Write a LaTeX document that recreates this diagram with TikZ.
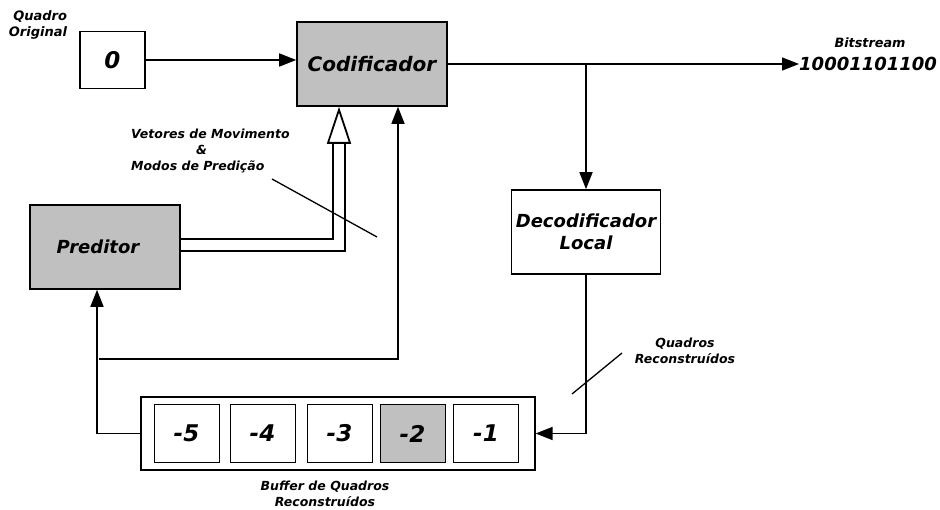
\documentclass[tikz,border=0pt]{standalone}
\usepackage{fontspec}
\setmainfont{DejaVu Sans}
\usepackage{tikz}
\usetikzlibrary{positioning,arrows.meta}
\usepackage{xcolor}
\definecolor{cinza}{HTML}{C0C0C0}
\tikzstyle{bloco}=[rectangle, draw=black, line width=1.6pt, text centered, inner sep=0pt,
minimum width=150pt, minimum height=84pt, font=\fontsize{18}{22}\selectfont\bfseries\itshape]
\tikzstyle{quadro}=[rectangle, draw=black, line width=1pt, inner sep=0pt,
minimum width=65pt, minimum height=57pt, font=\fontsize{23}{26}\selectfont\bfseries\itshape]
\tikzstyle{rotulo}=[inner sep=0pt, font=\fontsize{12.5}{16}\selectfont\bfseries\itshape]
\tikzstyle{seta}=[line width=1.6pt, -{Triangle[length=17pt,width=13pt]}]
\tikzstyle{dupla}=[double, double distance=10pt, line width=1.8pt,
-{Triangle[open, length=37pt, width=24pt, line width=1.8pt]}]

\begin{document}
\begin{tikzpicture}[x=1pt, y=-1pt]
            \useasboundingbox (0,0) rectangle (940,510);
            \node (1)[quadro, line width=1.6pt] at (112.5,60) {0};
            \node (2)[bloco, fill=cinza, font=\fontsize{20}{24}\selectfont\bfseries\itshape] at (372,64) {Codificador};
            \node (3)[bloco, minimum width=149pt, align=center] at (586,232) {Decodificador\\Local};
            \node (4)[bloco, fill=cinza] at (105,247) {\hspace*{-14pt}Preditor};
            \node (5)[draw, line width=1.2pt, minimum width=394pt, minimum height=73pt] at (338,433.5) {};
            \foreach \n/\x/\cor in {5/186.5/white, 4/262.5/white, 3/339.5/white, 2/412.5/cinza, 1/486/white}
                \node (m\n)[quadro, fill=\cor] at (\x,433.5) {-\n};

            \node (6)[rotulo, align=right, font=\fontsize{13}{16}\selectfont\bfseries\itshape] at (38,25) {Quadro\\Original};
            \node (7)[rotulo, font=\fontsize{12.8}{15}\selectfont\bfseries\itshape] at (870,43) {Bitstream};
            \node (8)[rotulo, anchor=west, font=\fontsize{18}{22}\selectfont\bfseries\itshape] at (799,64) {10001101100};
            \node (9)[rotulo, align=left, anchor=west] at (131,151)
                {Vetores de Movimento\\\hspace*{65pt}\&\\Modos de Predição};
            \node (10)[rotulo, align=center] at (685,351) {Quadros\\Reconstruídos};
            \node (11)[rotulo, align=center] at (325,494) {Buffer de Quadros\\Reconstruídos};

            \draw[seta] (1.east) -- (1.east -| 2.west);
            \draw[seta] (2.east) -- (8.west);
            \draw[seta] (2.east -| 3.north) -- (3.north);
            \draw[seta] (3.south) |- (5.east);
            \draw[seta] (5.west) -| ([xshift=-8pt]4.south);
            \coordinate (r1) at (99,359);
            \draw[seta] (r1) -| ([xshift=26pt]2.south);
            \draw[dupla] ([yshift=2pt]4.east) -| ([xshift=-33pt]2.south);

            \coordinate (a1) at (272,179);
            \coordinate (a2) at (377,237);
            \draw[line width=1.3pt] (a1) -- (a2);
            \coordinate (a3) at (572,394);
            \coordinate (a4) at (622,353);
            \draw[line width=1.3pt] (a3) -- (a4);
        \end{tikzpicture}
\end{document}
